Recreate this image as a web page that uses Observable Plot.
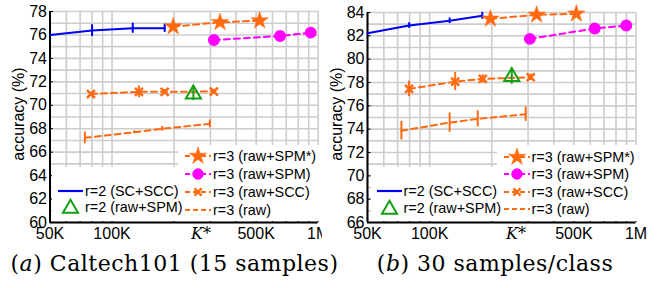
<!DOCTYPE html>
<html><head><meta charset="utf-8">
<script src="https://cdn.jsdelivr.net/npm/d3@7"></script>
<script src="https://cdn.jsdelivr.net/npm/@observablehq/plot@0.6"></script>
<style>
body{margin:0;background:#fff;}
#wrap{position:relative;width:657px;height:288px;overflow:hidden;font-family:"Liberation Sans",Arial,sans-serif;}
.pan{position:absolute;top:0;}
.box{position:absolute;background:#fff;}
.row{position:absolute;display:flex;align-items:center;height:18px;font-size:14.4px;white-space:nowrap;color:#000;}
.row svg{display:block;margin-right:2px;}
.ylab{position:absolute;width:160px;height:20px;line-height:20px;text-align:center;font-size:16px;white-space:nowrap;transform:rotate(-90deg);color:#000;}
.cap{position:absolute;width:400px;text-align:center;font-family:"DejaVu Serif",serif;font-size:22px;letter-spacing:0.5px;white-space:nowrap;top:251px;}
</style></head><body><div id="wrap"></div>
<script>
// ---------- shared axis data ----------
const gridXVals = [5e4,6e4,7e4,8e4,9e4,1e5,2e5,3e5,4e5,5e5,6e5,7e5,8e5,9e5,1e6];
const xTickVals = [5e4,1e5,5e5,1e6];
const xTickText = ["50K","100K","500K","1M"];
const kStarText = "K*";
const yLabel = "accuracy (%)";
const legendTexts = ["r=3 (raw+SPM*)","r=3 (raw+SPM)","r=3 (raw+SCC)","r=3 (raw)"];
const legendTextsLeft = ["r=2 (SC+SCC)","r=2 (raw+SPM)"];
const captionA = "Caltech101 (15 samples)";
const captionB = "30 samples/class";

// ---------- panel (a) ----------
const kStarA = 2.7e5;
const a_scscc_k = [5e4, 8.0e4, 1.26e5, 1.8e5];
const a_scscc_v = [76.0, 76.37, 76.57, 76.57];
const a_scscc_e = [0, 0.5, 0.43, 0.35];
const a_spmS_k = [1.98e5, 3.34e5, 5.2e5];
const a_spmS_v = [76.71, 77.08, 77.22];
const a_spm_k = [3.12e5, 6.53e5, 9.2e5];
const a_spm_v = [75.57, 75.91, 76.2];
const a_scc_k = [7.9e4, 1.35e5, 1.8e5, 3.12e5];
const a_scc_v = [70.96, 71.15, 71.15, 71.17];
const a_scc_e = [0.15, 0.5, 0.2, 0.2];
const a_r2spm_k = [2.48e5];
const a_r2spm_v = [70.94];
const a_r2spm_e = [0.55];
const a_raw_k = [7.38e4, 1.28e5, 1.75e5, 2.98e5];
const a_raw_v = [67.22, 67.70, 67.99, 68.42];
const a_raw_e = [0.5, 0.12, 0.2, 0.32];

// ---------- panel (b) ----------
const kStarB = 2.62e5;
const b_scscc_k = [5e4, 7.96e4, 1.25e5, 1.8e5];
const b_scscc_v = [82.23, 82.88, 83.29, 83.72];
const b_scscc_e = [0, 0.24, 0.24, 0.3];
const b_spmS_k = [1.97e5, 3.3e5, 5.14e5];
const b_spmS_v = [83.46, 83.8, 83.89];
const b_spm_k = [3.06e5, 6.31e5, 8.97e5];
const b_spm_v = [81.74, 82.63, 82.88];
const b_scc_k = [7.95e4, 1.33e5, 1.81e5, 3.09e5];
const b_scc_v = [77.45, 78.08, 78.31, 78.45];
const b_scc_e = [0.67, 0.78, 0.36, 0.28];
const b_r2spm_k = [2.5e5];
const b_r2spm_v = [78.5];
const b_r2spm_e = [0.65];
const b_raw_k = [7.3e4, 1.25e5, 1.71e5, 2.92e5];
const b_raw_v = [73.87, 74.56, 74.88, 75.28];
const b_raw_e = [0.8, 0.83, 0.69, 0.62];

// ---------- colours ----------
const C_BLUE = "#0000f5", C_OR = "#ff6a10", C_MAG = "#ff00ff", C_GR = "#12a012", C_GRID = "#cdcdcd";
const DASH = "6,4";

const ser = (ks, vs, es) => ks.map((k, i) => ({k, v: vs[i], e: es ? es[i] : 0}));

function makePanel(p) {
  const yTicks = d3.range(p.y0, p.y1 + 0.1, 2);
  const yGrid = d3.range(p.y0, p.y1 + 0.1, 1);
  const s1 = ser(p.scscc_k, p.scscc_v, p.scscc_e);
  const s2 = ser(p.spmS_k, p.spmS_v);
  const s3 = ser(p.spm_k, p.spm_v);
  const s4 = ser(p.scc_k, p.scc_v, p.scc_e);
  const s5 = ser(p.r2_k, p.r2_v, p.r2_e);
  const s6 = ser(p.raw_k, p.raw_v, p.raw_e);
  const err = (d) => d.filter(x => x.e > 0);
  const eb = (d, color) => Plot.ruleX(err(d), {x: "k", y1: x => x.v - x.e, y2: x => x.v + x.e, stroke: color, strokeWidth: 2});
  return Plot.plot({
    width: p.width, height: 250,
    marginLeft: p.mL, marginRight: p.mR, marginTop: p.mT, marginBottom: p.mB,
    style: {fontFamily: "'Liberation Sans', Arial, sans-serif", fontSize: "16px", background: "white", overflow: "visible", color: "black"},
    x: {type: "log", domain: [5e4, 1e6], axis: null},
    y: {domain: [p.y0, p.y1]},
    marks: [
      Plot.gridX(gridXVals, {stroke: C_GRID, strokeOpacity: 1, strokeWidth: 1.6}),
      Plot.gridY(yGrid, {stroke: C_GRID, strokeOpacity: 1, strokeWidth: 1.6}),
      Plot.text(xTickVals, {x: d => d, text: (d, i) => xTickText[i], frameAnchor: "bottom", lineAnchor: "top", dy: 5, fontSize: 16, fill: "black"}),
      Plot.text([p.kStar], {x: d => d, text: () => kStarText, frameAnchor: "bottom", lineAnchor: "top", dy: 5, fontSize: 16, fontFamily: "'DejaVu Serif', serif", fontStyle: "italic", fill: "black"}),
      Plot.axisY(yTicks, {tickSize: 0, tickPadding: 3, label: null}),
      // small inward ticks
      Plot.ruleX(gridXVals, {y1: p.y0, y2: p.y0 + 0.28, stroke: "black", strokeWidth: 1}),
      Plot.ruleY(yTicks, {x1: 5e4, x2: 5.2e4, stroke: "black", strokeWidth: 1}),
      Plot.ruleX([5e4], {stroke: "black", strokeWidth: 2}),
      Plot.ruleY([p.y0], {stroke: "black", strokeWidth: 2}),
      // r=3 raw
      Plot.line(s6, {x: "k", y: "v", stroke: C_OR, strokeWidth: 2, strokeDasharray: DASH}),
      eb(s6, C_OR),
      // r=3 raw+SCC
      Plot.line(s4, {x: "k", y: "v", stroke: C_OR, strokeWidth: 2, strokeDasharray: DASH}),
      eb(s4, C_OR),
      Plot.dot(s4, {x: "k", y: "v", symbol: "times", r: 3.7, stroke: C_OR, strokeWidth: 2.5}),
      // r=2 raw+SPM
      eb(s5, C_GR),
      Plot.dot(s5, {x: "k", y: "v", symbol: "triangle", r: 5.6, stroke: C_GR, fill: "none", strokeWidth: 2}),
      // r=3 raw+SPM
      Plot.line(s3, {x: "k", y: "v", stroke: C_MAG, strokeWidth: 2, strokeDasharray: DASH}),
      Plot.dot(s3, {x: "k", y: "v", symbol: "circle", r: 5.2, fill: C_MAG, stroke: C_MAG}),
      // r=2 SC+SCC
      Plot.line(s1, {x: "k", y: "v", stroke: C_BLUE, strokeWidth: 2}),
      eb(s1, C_BLUE),
      // r=3 raw+SPM*
      Plot.line(s2, {x: "k", y: "v", stroke: C_OR, strokeWidth: 2, strokeDasharray: DASH}),
      Plot.dot(s2, {x: "k", y: "v", symbol: "star", r: 5.5, fill: C_OR, stroke: C_OR, strokeWidth: 0.5})
    ]
  });
}

const wrap = document.getElementById("wrap");

function addPanel(left, plot) {
  const d = document.createElement("div");
  d.className = "pan"; d.style.left = left + "px";
  d.appendChild(plot); wrap.appendChild(d);
}

addPanel(0, makePanel({
  width: 328, mL: 49.5, mR: 10.3, mT: 11, mB: 28, y0: 60, y1: 78, kStar: kStarA,
  scscc_k: a_scscc_k, scscc_v: a_scscc_v, scscc_e: a_scscc_e,
  spmS_k: a_spmS_k, spmS_v: a_spmS_v, spm_k: a_spm_k, spm_v: a_spm_v,
  scc_k: a_scc_k, scc_v: a_scc_v, scc_e: a_scc_e,
  r2_k: a_r2spm_k, r2_v: a_r2spm_v, r2_e: a_r2spm_e,
  raw_k: a_raw_k, raw_v: a_raw_v, raw_e: a_raw_e
}));
addPanel(322, makePanel({
  width: 335, mL: 45, mR: 21.5, mT: 12, mB: 28, y0: 66, y1: 84, kStar: kStarB,
  scscc_k: b_scscc_k, scscc_v: b_scscc_v, scscc_e: b_scscc_e,
  spmS_k: b_spmS_k, spmS_v: b_spmS_v, spm_k: b_spm_k, spm_v: b_spm_v,
  scc_k: b_scc_k, scc_v: b_scc_v, scc_e: b_scc_e,
  r2_k: b_r2spm_k, r2_v: b_r2spm_v, r2_e: b_r2spm_e,
  raw_k: b_raw_k, raw_v: b_raw_v, raw_e: b_raw_e
}));

// ---------- y-axis labels ----------
function ylab(cx, cy) {
  const d = document.createElement("div"); d.className = "ylab";
  d.style.left = (cx - 80) + "px"; d.style.top = (cy - 10) + "px";
  d.textContent = yLabel; wrap.appendChild(d);
}
ylab(19, 114);
ylab(337, 114);

// ---------- legends (HTML overlay) ----------
function swatch(w, color, dash, marker) {
  const ns = "http://www.w3.org/2000/svg";
  const s = document.createElementNS(ns, "svg");
  s.setAttribute("width", w); s.setAttribute("height", 18);
  if (marker !== "triOnly") {
    const l = document.createElementNS(ns, "line");
    l.setAttribute("x1", 0); l.setAttribute("x2", w); l.setAttribute("y1", 9); l.setAttribute("y2", 9);
    l.setAttribute("stroke", color); l.setAttribute("stroke-width", 2.2);
    if (dash) l.setAttribute("stroke-dasharray", "5,3");
    s.appendChild(l);
  }
  let path = null;
  if (marker === "star") path = {d: d3.symbol(d3.symbolStar, Math.PI * 5.5 * 5.5)(), fill: color, stroke: color, sw: 0.5};
  if (marker === "circle") path = {d: d3.symbol(d3.symbolCircle, Math.PI * 5.2 * 5.2)(), fill: color, stroke: color, sw: 1};
  if (marker === "times") path = {d: d3.symbol(d3.symbolTimes, Math.PI * 3.3 * 3.3)(), fill: "none", stroke: color, sw: 2.5};
  if (marker === "triOnly") path = {d: d3.symbol(d3.symbolTriangle, Math.PI * 5.6 * 5.6)(), fill: "none", stroke: color, sw: 2};
  if (path) {
    const p = document.createElementNS(ns, "path");
    p.setAttribute("d", path.d); p.setAttribute("fill", path.fill); p.setAttribute("stroke", path.stroke);
    p.setAttribute("stroke-width", path.sw);
    p.setAttribute("transform", `translate(${w / 2},${marker === "triOnly" ? 10.5 : 9})`);
    s.appendChild(p);
  }
  return s;
}
function addBox(l, t, w, h) {
  const b = document.createElement("div"); b.className = "box";
  Object.assign(b.style, {left: l + "px", top: t + "px", width: w + "px", height: h + "px"});
  wrap.appendChild(b);
}
function addRow(x, yc, w, color, dash, marker, text) {
  const r = document.createElement("div"); r.className = "row";
  r.style.left = x + "px"; r.style.top = (yc - 9) + "px";
  r.appendChild(swatch(w, color, dash, marker));
  const t = document.createElement("span"); t.textContent = text; r.appendChild(t);
  wrap.appendChild(r);
}
function legends(dx, rightRows, leftRows) {
  addBox(178 + dx, 145, 141, 76);
  addBox(52 + dx, 167, 126, 54);
  const specs = [[C_OR, true, "star"], [C_MAG, true, "circle"], [C_OR, true, "times"], [C_OR, true, null]];
  specs.forEach((s, i) => addRow(185 + dx, rightRows[i], 26, s[0], s[1], s[2], legendTexts[i]));
  addRow(58 + dx, leftRows[0], 25, C_BLUE, false, null, legendTextsLeft[0]);
  addRow(58 + dx, leftRows[1], 25, C_GR, false, "triOnly", legendTextsLeft[1]);
}
legends(0, [156, 174.3, 192.3, 210], [190.7, 207.3]);
legends(318.5, [156.7, 174.3, 191.7, 209.3], [191, 208.3]);

// ---------- captions ----------
function caption(cx, letter, text) {
  const c = document.createElement("div"); c.className = "cap";
  c.style.left = (cx - 200) + "px";
  c.innerHTML = "(<i></i>) <span></span>";
  c.querySelector("i").textContent = letter;
  c.querySelector("span").textContent = text;
  wrap.appendChild(c);
}
caption(174.5, "a", captionA);
caption(495, "b", captionB);
</script></body></html>
